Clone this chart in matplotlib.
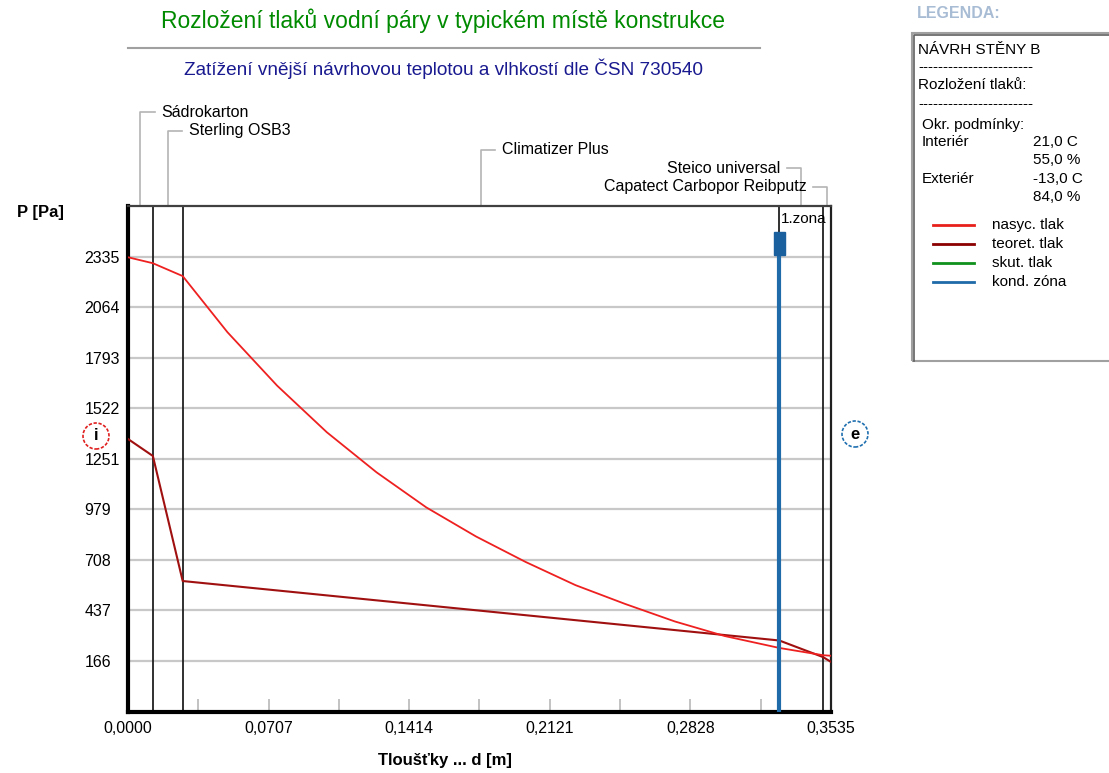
import matplotlib
matplotlib.use("Agg")
import matplotlib.pyplot as plt
from matplotlib.patches import Rectangle, Ellipse
import numpy as np

plt.rcParams['font.family'] = ['Liberation Sans', 'DejaVu Sans']

# layers of the wall (interior -> exterior), thickness in m
layer_names = ["Sádrokarton", "Sterling OSB3", "Climatizer Plus",
               "Steico universal", "Capatect Carbopor Reibputz"]
layer_d = [0.0125, 0.015, 0.300, 0.022, 0.004]

# saturated vapour pressure [Pa]
sat_x = [0.0, 0.0125, 0.0275, 0.05, 0.075, 0.10, 0.125, 0.15, 0.175, 0.20,
         0.225, 0.25, 0.275, 0.30, 0.3275, 0.3495, 0.3535]
sat_p = [2332, 2300, 2231, 1930, 1643, 1393, 1178, 990, 834, 697,
         573, 472, 378, 300, 236, 197, 194]

# theoretical vapour pressure [Pa]
teo_x = [0.0, 0.0125, 0.0275, 0.3275, 0.3495, 0.3535]
teo_p = [1357, 1266, 595, 276, 187, 161]

cond_zone_x = 0.3275

y_ticks = [166.2, 437.4, 708.6, 979.8, 1251.0, 1522.2, 1793.4, 2064.6, 2335.8]
y_labels = ["166", "437", "708", "979", "1251", "1522", "1793", "2064", "2335"]
x_ticks = [0.0, 0.0707, 0.1414, 0.2121, 0.2828, 0.3535]
x_labels = ["0,0000", "0,0707", "0,1414", "0,2121", "0,2828", "0,3535"]
x_minor = [0.03535, 0.10605, 0.17675, 0.24745, 0.31815]

legend_items = [("nasyc. tlak", "#e8201c"), ("teoret. tlak", "#8b0000"),
                ("skut. tlak", "#10901c"), ("kond. zóna", "#1f6aa8")]

W, H = 1109, 773
fig = plt.figure(figsize=(W / 100, H / 100), dpi=100)


def fx(px):
    return px / W


def fy(py):
    return 1 - py / H


ax = fig.add_axes([fx(128), fy(711.5), (831 - 128) / W, (711.5 - 206) / H])
ax.set_xlim(0, 0.3535)
ax.set_ylim(-105, 2607)

ax.set_yticks(y_ticks)
ax.set_yticklabels(y_labels)
ax.set_xticks(x_ticks)
ax.set_xticklabels(x_labels)
ax.set_xticks(x_minor, minor=True)
ax.tick_params(axis='y', length=0, pad=31.5, labelsize=11.5)
for lab in ax.get_yticklabels():
    lab.set_horizontalalignment('left')
ax.tick_params(axis='x', which='both', direction='in', length=9.5,
               width=1.2, color='#b8b8b8', labelsize=11.5, pad=7)
ax.grid(axis='y', color='#c8c8c8', lw=1.6)
ax.set_axisbelow(True)

ax.spines['left'].set_linewidth(3)
ax.spines['bottom'].set_linewidth(3)
ax.spines['top'].set_linewidth(1.6)
ax.spines['right'].set_linewidth(1.6)
ax.spines['top'].set_color('#404040')
ax.spines['right'].set_color('#202020')

bounds = np.cumsum(layer_d)
for b in bounds[:-1]:
    ax.axvline(b, color='#202020', lw=1.3, zorder=2)

ax.plot(teo_x, teo_p, color='#a01010', lw=1.5, zorder=3)
ax.plot(sat_x, sat_p, color='#ee2020', lw=1.3, zorder=4)

# condensation zone
ax.plot([cond_zone_x, cond_zone_x], [0, 0.903], color='#1f6aa8', lw=3,
        transform=ax.get_xaxis_transform(), zorder=5)
ax.add_patch(Rectangle((cond_zone_x - 0.0027, 0.903), 0.0054, 0.046,
                       transform=ax.get_xaxis_transform(), color='#1a5f9e',
                       zorder=5))
ax.text(cond_zone_x + 0.0008, 0.974, "1.zona", transform=ax.get_xaxis_transform(),
        fontsize=11, va='center', ha='left', zorder=6)

# layer labels with leader lines
starts = np.concatenate([[0], bounds[:-1]])
mids = (starts + bounds) / 2
levels = [1.185, 1.149, 1.111, 1.075, 1.038]
sides = [1, 1, 1, -1, -1]
trans = ax.get_xaxis_transform()
for name, m, lev, s in zip(layer_names, mids, levels, sides):
    ax.plot([m, m, m + s * 0.0072], [1.0, lev, lev], color='#b4b4b4', lw=1.2,
            transform=trans, clip_on=False)
    ax.text(m + s * 0.0105, lev, name, transform=trans, fontsize=11.5,
            ha='left' if s > 0 else 'right', va='center')

# titles
fig.text(fx(443), fy(21), "Rozložení tlaků vodní páry v typickém místě konstrukce",
         color='#008a00', fontsize=16.5, ha='center', va='center')
fig.add_artist(plt.Line2D([fx(128), fx(760)], [fy(48), fy(48)], color='#a0a0a0', lw=1.5))
fig.text(fx(443), fy(69), "Zatížení vnější návrhovou teplotou a vlhkostí dle ČSN 730540",
         color='#1a1a90', fontsize=13.7, ha='center', va='center')
fig.text(fx(17), fy(213), "P [Pa]", fontsize=12, fontweight='bold', va='center')
fig.text(fx(445), fy(760), "Tloušťky ... d [m]", fontsize=12, fontweight='bold',
         ha='center', va='center')

# interior / exterior marks
for cx, cy, t, c in [(96, 436, "i", '#e02020'), (855, 434, "e", '#2070b0')]:
    fig.add_artist(Ellipse((fx(cx), fy(cy)), 26 / W, 26 / H, transform=fig.transFigure,
                           fill=False, ec=c, ls=(0, (2, 1)), lw=1.2))
    fig.text(fx(cx), fy(cy), t, fontsize=12, fontweight='bold', ha='center',
             va='center')

# legend panel
fig.text(fx(917), fy(13), "LEGENDA:", color='#a8bcd4', fontsize=11.5,
         fontweight='bold', va='center')
fig.add_artist(Rectangle((fx(912), fy(361)), fx(210), 328 / H,
                         transform=fig.transFigure, fill=False, ec='#a0a0a0', lw=1.5))
fig.add_artist(plt.Line2D([fx(913.5), fx(913.5), fx(1109)], [fy(361), fy(34.5), fy(34.5)],
                          color='#606060', lw=1.2))
rows = [(918, 50, "NÁVRH STĚNY B"), (918, 67, "-" * 23), (918, 85, "Rozložení tlaků:"),
        (918, 104, "-" * 23), (922, 125, "Okr. podmínky:"), (922, 142, "Interiér"),
        (1033, 142, "21,0 C"), (1033, 160, "55,0 %"), (922, 179, "Exteriér"),
        (1033, 179, "-13,0 C"), (1033, 197, "84,0 %")]
for x, y, t in rows:
    fig.text(fx(x), fy(y), t, fontsize=11, va='center')
for (lab, col), y in zip(legend_items, [225, 244, 263, 282]):
    fig.add_artist(plt.Line2D([fx(933), fx(974)], [fy(y), fy(y)], color=col, lw=2))
    fig.text(fx(992), fy(y), lab, fontsize=11, va='center')

fig.savefig("out.png", dpi=100)
